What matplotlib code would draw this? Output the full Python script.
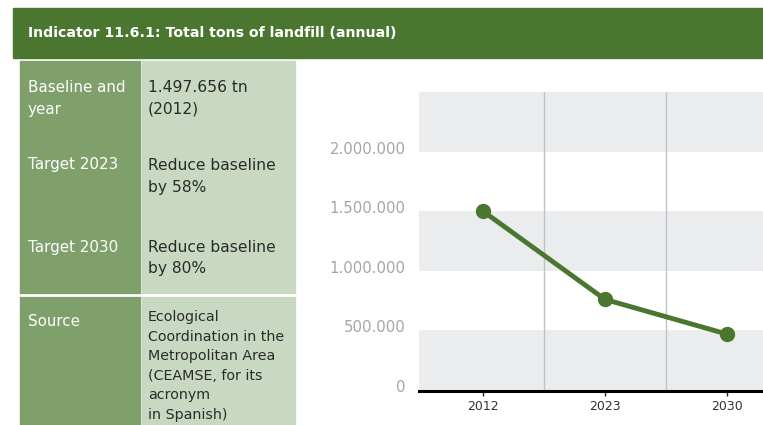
import matplotlib.pyplot as plt
import matplotlib.transforms as mtransforms
from matplotlib.patches import Rectangle

# Datos del indicador
years = ['2012', '2023', '2030']
tons = [1497656, 760000, 470000]
yticks = [0, 500000, 1000000, 1500000, 2000000]
ytick_labels = ['0', '500.000', '1.000.000', '1.500.000', '2.000.000']

title = 'Indicator 11.6.1: Total tons of landfill (annual)'
row_names = [['Baseline and', 'year'], ['Target 2023'], ['Target 2030'], ['Source']]
row_values = [['1.497.656 tn', '(2012)'],
              ['Reduce baseline', 'by 58%'],
              ['Reduce baseline', 'by 80%'],
              ['Ecological', 'Coordination in the', 'Metropolitan Area',
               '(CEAMSE, for its', 'acronym', 'in Spanish)']]

dark_green = '#4a762f'
mid_green = '#7f9f6b'
light_green = '#c9d8c1'
band_gray = '#ebecee'

W, H = 763, 425
fig = plt.figure(figsize=(W / 100, H / 100), dpi=100)

# capa de fondo en pixeles (y hacia abajo)
bg = fig.add_axes([0, 0, 1, 1])
bg.set_xlim(0, W)
bg.set_ylim(H, 0)
bg.axis('off')

bg.add_patch(Rectangle((13, 8), W - 13, 50, color=dark_green))
bg.text(28, 33, title, color='white', fontsize=10.2, va='center', ha='left',
        family=['DejaVu Sans'], fontweight='bold')

# tabla de la izquierda
bg.add_patch(Rectangle((20, 61), 120, H - 61, color=mid_green))
bg.add_patch(Rectangle((142, 61), 153, H - 61, color=light_green))
bg.plot([20, 295], [295, 295], color='white', lw=2)

tfont = ['DejaVu Sans']
name_y = [87, 164, 247, 322]
value_y = [87, 165, 247, 317]
for names, ny in zip(row_names, name_y):
    for i, s in enumerate(names):
        bg.text(28, ny + i * 22, s, color='white', fontsize=10.9, va='center',
                family=tfont)
for vals, vy in zip(row_values, value_y):
    small = len(vals) > 2
    step = 19.6 if small else 22
    for i, s in enumerate(vals):
        bg.text(148, vy + i * step, s, color='#2b2b2b',
                fontsize=10.3 if small else 11.2, va='center', family=tfont)

# grafico de lineas
ax = fig.add_axes([419 / W, (H - 390) / H, 344 / W, 298 / H])
x = range(len(years))
ax.set_xlim(-0.53, 2.30)
ax.set_ylim(0, 2500000)

for lo in [0, 1000000, 2000000]:
    ax.axhspan(lo, lo + 500000, color=band_gray, lw=0, zorder=0)
for xv in [0.5, 1.5]:
    ax.axvline(xv, color='#bfc3c8', lw=1, zorder=1)

ax.plot(x, tons, color=dark_green, lw=3.5, marker='o', markersize=10,
        zorder=3, clip_on=False)
ax.axhline(-12000, color='black', lw=2.2, clip_on=False, zorder=4)

for s in ax.spines.values():
    s.set_visible(False)

ax.set_xticks(list(x))
ax.set_xticklabels(years, family=tfont, fontsize=9, color='#333333')
ax.tick_params(axis='x', length=4, width=1, color='#222222', pad=3)
ax.set_yticks(yticks)
ax.set_yticklabels(ytick_labels, family=tfont, fontsize=10.7, color='#a5a5a5')
ax.tick_params(axis='y', length=0, pad=9.5)
up = mtransforms.ScaledTranslation(0, 4 / 100, fig.dpi_scale_trans)
for lab in ax.get_yticklabels():
    lab.set_transform(lab.get_transform() + up)

fig.savefig('out.png', dpi=100)
